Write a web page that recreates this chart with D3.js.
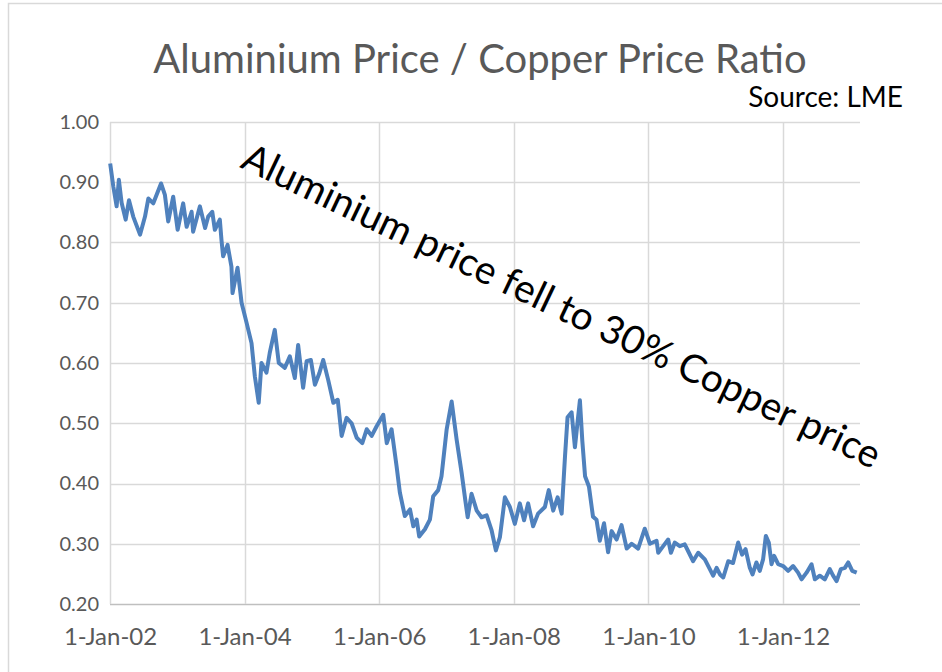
<!DOCTYPE html>
<html>
<head>
<meta charset="utf-8">
<title>Aluminium / Copper</title>
<script src="https://d3js.org/d3.v7.min.js"></script>
<style>
  body { margin: 0; background: #fff; }
  text { font-family: Lato, "Open Sans", sans-serif; }
</style>
</head>
<body>
<svg id="chart" width="942" height="672"></svg>
<script>
// values
const dates = [
  "2002-01-02","2002-01-19","2002-02-06","2002-02-18","2002-03-05","2002-03-27","2002-04-14","2002-05-07",
  "2002-06-13","2002-07-10","2002-07-28","2002-08-24","2002-10-05","2002-10-26","2002-11-13","2002-12-10",
  "2003-01-03","2003-02-02","2003-02-21","2003-03-20","2003-03-28","2003-05-04","2003-06-01","2003-06-18",
  "2003-07-10","2003-07-24","2003-08-20","2003-08-29","2003-09-07","2003-10-01","2003-10-22","2003-10-28",
  "2003-11-24","2003-12-16","2004-01-12","2004-02-08","2004-02-26","2004-03-18","2004-04-02","2004-04-29",
  "2004-05-17","2004-06-13","2004-07-05","2004-08-07","2004-09-03","2004-09-30","2004-10-18","2004-11-14",
  "2004-12-03","2004-12-26","2005-01-17","2005-02-10","2005-03-03","2005-03-30","2005-04-27","2005-05-21",
  "2005-06-11","2005-07-08","2005-08-04","2005-09-01","2005-10-01","2005-10-25","2005-11-21","2005-12-18",
  "2006-01-23","2006-02-11","2006-03-09","2006-04-05","2006-04-23","2006-05-20","2006-06-17","2006-07-05",
  "2006-07-23","2006-08-06","2006-09-06","2006-10-03","2006-10-21","2006-11-17","2006-12-05","2007-01-02",
  "2007-01-29","2007-02-25","2007-03-24","2007-04-14","2007-04-26","2007-05-17","2007-06-14","2007-07-10",
  "2007-08-07","2007-09-03","2007-09-26","2007-10-18","2007-11-14","2007-12-11","2008-01-07","2008-02-03",
  "2008-02-26","2008-03-19","2008-04-15","2008-05-12","2008-06-18","2008-07-09","2008-08-02","2008-08-26",
  "2008-09-17","2008-10-05","2008-10-19","2008-11-10","2008-11-28","2008-12-13","2008-12-25","2009-01-07",
  "2009-01-22","2009-02-12","2009-03-06","2009-03-25","2009-04-12","2009-05-05","2009-05-27","2009-06-15",
  "2009-07-12","2009-08-08","2009-09-05","2009-10-02","2009-11-06","2009-12-12","2010-01-09","2010-02-14",
  "2010-02-23","2010-03-22","2010-04-18","2010-05-03","2010-05-24","2010-06-20","2010-07-17","2010-08-04",
  "2010-08-31","2010-09-28","2010-11-03","2010-11-30","2010-12-18","2011-01-06","2011-01-24","2011-02-11",
  "2011-03-10","2011-04-05","2011-05-03","2011-05-24","2011-06-12","2011-07-05","2011-07-20","2011-08-10",
  "2011-08-28","2011-09-15","2011-09-30","2011-10-16","2011-10-31","2011-11-14","2011-12-06","2012-01-02",
  "2012-01-29","2012-02-25","2012-03-23","2012-04-11","2012-05-08","2012-06-04","2012-06-22","2012-07-19",
  "2012-08-15","2012-09-11","2012-09-29","2012-10-18","2012-11-10","2012-12-02","2012-12-20","2013-01-11",
  "2013-02-04"
];
const ratio = [
  0.931,0.893,0.860,0.904,0.866,0.838,0.870,0.843,
  0.813,0.843,0.873,0.865,0.898,0.879,0.835,0.876,
  0.821,0.865,0.826,0.851,0.818,0.860,0.824,0.843,
  0.851,0.821,0.838,0.804,0.777,0.796,0.760,0.716,
  0.758,0.700,0.667,0.633,0.578,0.534,0.600,0.584,
  0.617,0.655,0.600,0.592,0.611,0.575,0.630,0.559,
  0.603,0.605,0.564,0.583,0.605,0.572,0.534,0.539,
  0.479,0.509,0.500,0.476,0.467,0.490,0.479,0.495,
  0.514,0.467,0.490,0.429,0.385,0.346,0.357,0.329,
  0.340,0.312,0.324,0.340,0.379,0.389,0.412,0.490,
  0.536,0.473,0.418,0.370,0.344,0.383,0.355,0.344,
  0.347,0.322,0.289,0.311,0.377,0.361,0.333,0.367,
  0.339,0.367,0.329,0.350,0.361,0.389,0.355,0.377,
  0.350,0.444,0.510,0.518,0.460,0.504,0.538,0.471,
  0.412,0.395,0.345,0.340,0.305,0.334,0.286,0.321,
  0.307,0.331,0.292,0.300,0.292,0.325,0.300,0.305,
  0.285,0.296,0.307,0.285,0.302,0.296,0.299,0.288,
  0.271,0.285,0.274,0.258,0.247,0.260,0.249,0.244,
  0.271,0.268,0.302,0.282,0.291,0.260,0.249,0.269,
  0.255,0.274,0.313,0.302,0.266,0.280,0.266,0.263,
  0.255,0.263,0.252,0.241,0.252,0.266,0.241,0.247,
  0.241,0.258,0.247,0.238,0.258,0.260,0.269,0.255,
  0.252
];
const yTicks = [0.2, 0.3, 0.4, 0.5, 0.6, 0.7, 0.8, 0.9, 1.0];
const xTicks = ["2002-01-01","2004-01-01","2006-01-01","2008-01-01","2010-01-01","2012-01-01"];
const xDomain = ["2002-01-01", "2013-02-22"];

const parse = d3.timeParse("%Y-%m-%d");
const data = dates.map((d, i) => ({ date: parse(d), value: ratio[i] }));

const svg = d3.select("#chart");
const plotLeft = 110, plotRight = 860, plotTop = 122, plotBottom = 604;

const x = d3.scaleTime().domain(xDomain.map(parse)).range([plotLeft, plotRight]);
const y = d3.scaleLinear().domain([0.2, 1.0]).range([plotBottom, plotTop]);

svg.append("rect")
  .attr("x", 8.5).attr("y", 3.5)
  .attr("width", 960).attr("height", 700)
  .attr("fill", "#fff")
  .attr("stroke", "#d9d9d9")
  .attr("stroke-width", 1.5);

// horizontal grid
svg.append("g")
  .selectAll("line")
  .data(yTicks)
  .join("line")
  .attr("x1", plotLeft).attr("x2", plotRight)
  .attr("y1", d => Math.round(y(d)) + 0.5).attr("y2", d => Math.round(y(d)) + 0.5)
  .attr("stroke", d => d === 0.2 ? "#bfbfbf" : "#d9d9d9")
  .attr("stroke-width", 1.5);

// vertical grid
svg.append("g")
  .selectAll("line")
  .data(xTicks.map(parse))
  .join("line")
  .attr("x1", d => Math.round(x(d)) + 0.5).attr("x2", d => Math.round(x(d)) + 0.5)
  .attr("y1", plotTop).attr("y2", plotBottom)
  .attr("stroke", "#d9d9d9")
  .attr("stroke-width", 1.5);

// y axis labels
const yAxis = svg.append("g")
  .attr("transform", `translate(${plotLeft},0)`)
  .call(d3.axisLeft(y).tickValues(yTicks).tickFormat(d3.format(".2f")).tickSize(0).tickPadding(11));
yAxis.select(".domain").remove();
yAxis.selectAll("text").attr("fill", "#595959").style("font-size", "20px");

// x axis labels
const xAxis = svg.append("g")
  .attr("transform", `translate(0,${plotBottom})`)
  .call(d3.axisBottom(x).tickValues(xTicks.map(parse)).tickFormat(d3.timeFormat("%-d-%b-%y")).tickSize(0).tickPadding(24));
xAxis.select(".domain").remove();
xAxis.selectAll("text").attr("fill", "#595959").style("font-size", "24px");

const line = d3.line()
  .x(d => x(d.date))
  .y(d => y(d.value));

svg.append("path")
  .datum(data)
  .attr("fill", "none")
  .attr("stroke", "#4f81bd")
  .attr("stroke-width", 4)
  .attr("stroke-linejoin", "round")
  .attr("d", line);

svg.append("text")
  .attr("x", 480).attr("y", 73)
  .attr("text-anchor", "middle")
  .attr("fill", "#595959")
  .style("font-size", "40px")
  .text("Aluminium Price / Copper Price Ratio");

svg.append("text")
  .attr("x", 903).attr("y", 107)
  .attr("text-anchor", "end")
  .attr("fill", "#000")
  .style("font-size", "28px")
  .text("Source: LME");

svg.append("text")
  .attr("transform", "translate(239,167) rotate(25.5)")
  .attr("fill", "#000")
  .style("font-size", "39px")
  .text("Aluminium price fell to 30% Copper price");
</script>
</body>
</html>
